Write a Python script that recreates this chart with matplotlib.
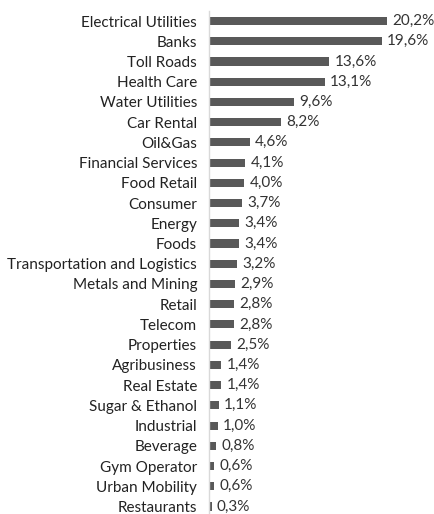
import matplotlib
matplotlib.use("Agg")
import matplotlib.pyplot as plt

categories = ["Electrical Utilities", "Banks", "Toll Roads", "Health Care", "Water Utilities",
              "Car Rental", "Oil&Gas", "Financial Services", "Food Retail", "Consumer", "Energy",
              "Foods", "Transportation and Logistics", "Metals and Mining", "Retail", "Telecom",
              "Properties", "Agribusiness", "Real Estate", "Sugar & Ethanol", "Industrial",
              "Beverage", "Gym Operator", "Urban Mobility", "Restaurants"]
values = [20.2, 19.6, 13.6, 13.1, 9.6, 8.2, 4.6, 4.1, 4.0, 3.7, 3.4, 3.4, 3.2, 2.9, 2.8, 2.8,
          2.5, 1.4, 1.4, 1.1, 1.0, 0.8, 0.6, 0.6, 0.3]

plt.rcParams['font.family'] = ['Lato', 'DejaVu Sans']

fig = plt.figure(figsize=(4.34, 5.14), dpi=100)
# axes placed so the rows line up with the original
ax = fig.add_axes([209 / 434, -0.005, 1 - 209 / 434, 0.9838])

y = range(len(categories))
ax.barh(y, values, height=0.4, color="#595959")
ax.set_xlim(0, 25.5)
ax.set_ylim(len(categories) - 0.5, -0.5)

for i, v in enumerate(values):
    ax.text(v + 0.6, i, f"{v:.1f}%".replace(".", ","), va="center", ha="left",
            fontsize=11, color="#333333")

ax.set_yticks(list(y))
ax.set_yticklabels(categories, fontsize=11, color="#222222")
ax.tick_params(axis="y", length=0, pad=8.5)
ax.set_xticks([])
for s in ["top", "right", "bottom"]:
    ax.spines[s].set_visible(False)
ax.spines["left"].set_color("#d9d9d9")
ax.spines["left"].set_linewidth(1)

fig.savefig("out.png", dpi=100)
